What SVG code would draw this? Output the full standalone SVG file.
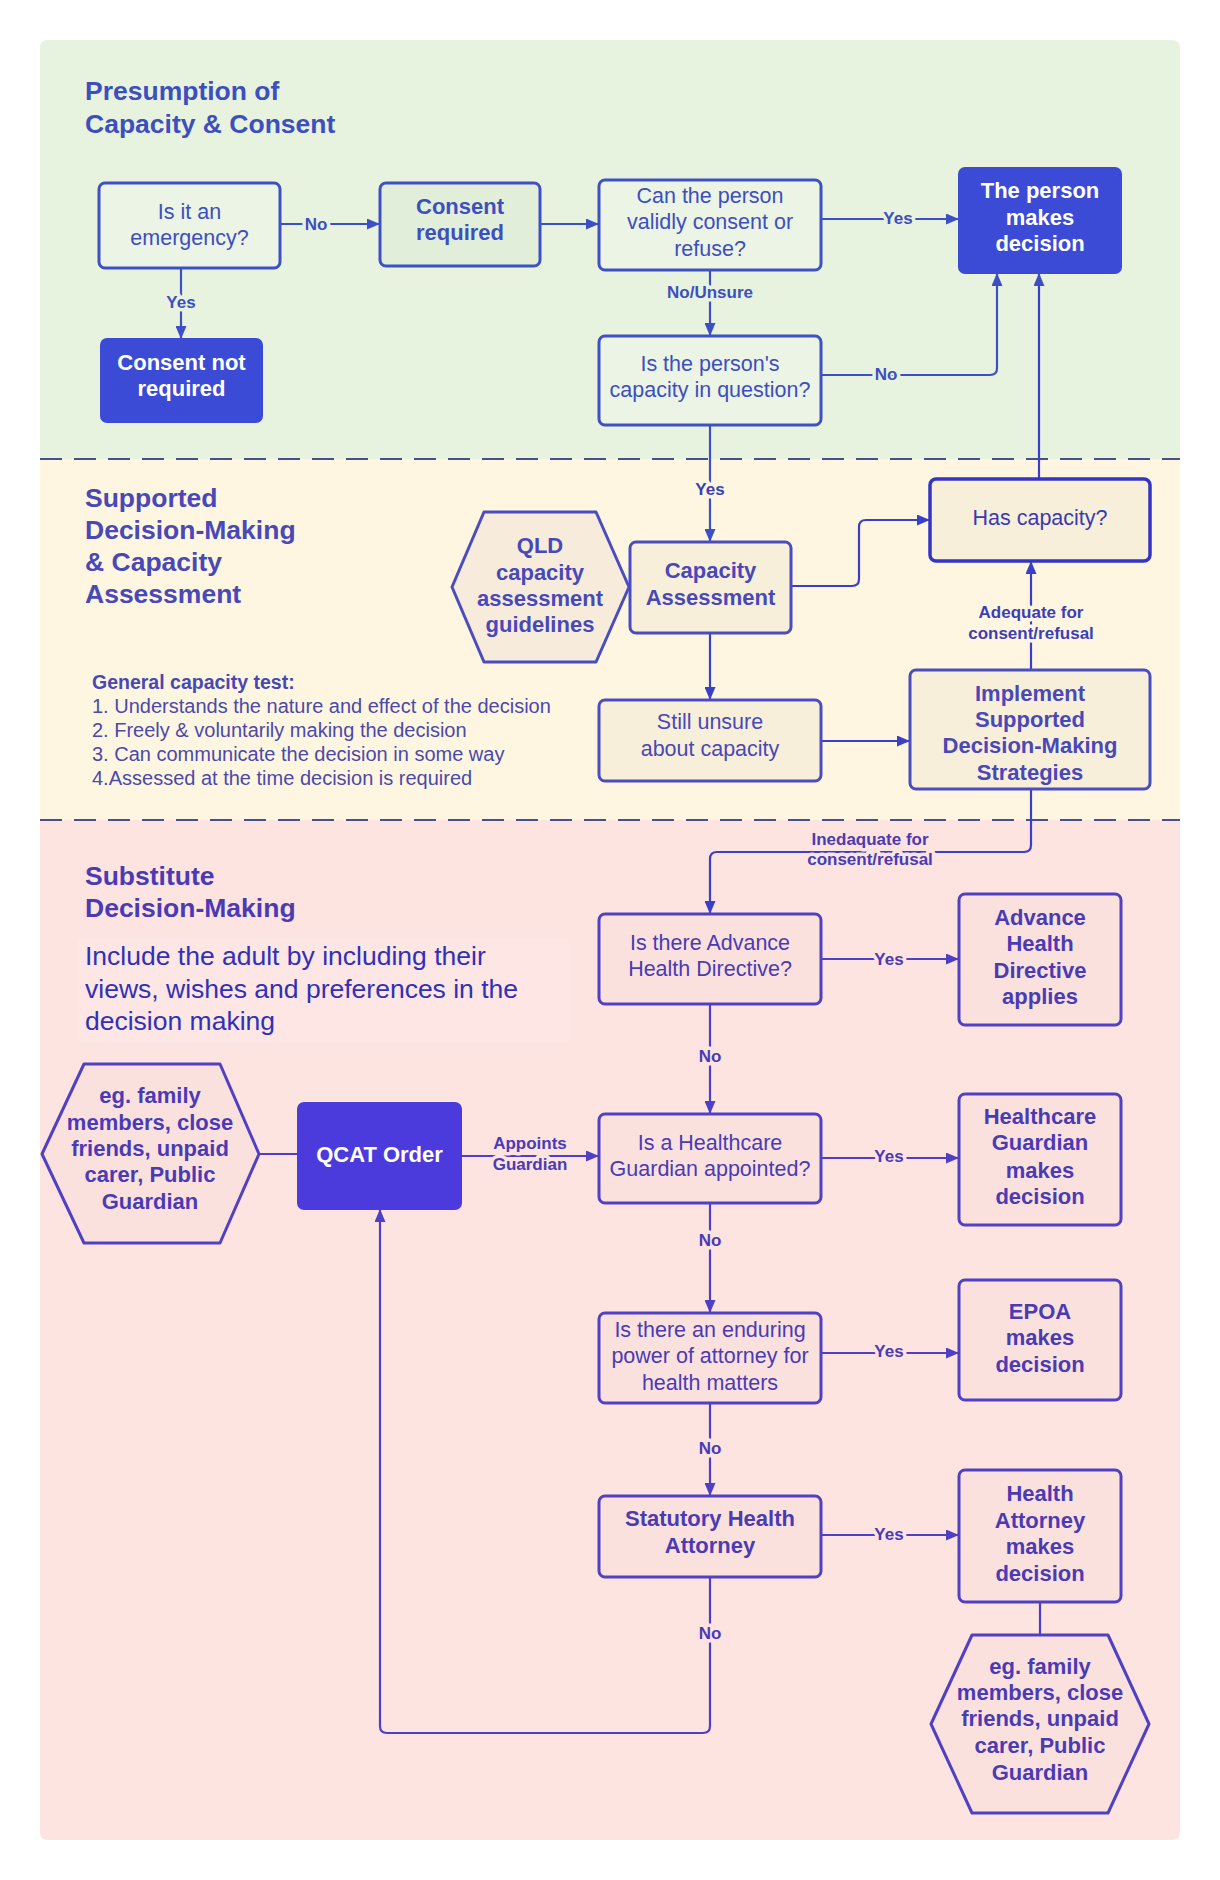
<svg xmlns="http://www.w3.org/2000/svg" width="1220" height="1880" viewBox="0 0 1220 1880">
<defs>
<style>
text{font-family:"Liberation Sans",Arial,sans-serif}
.title{font-size:26.5px;font-weight:bold}
.tg{fill:#3d4fbf}.ty{fill:#4848b8}.tp{fill:#4a3bb5}
.n{font-size:21.5px;text-anchor:middle}
.b{font-size:22px;font-weight:bold;text-anchor:middle}
.w{fill:#ffffff}
.lbl{font-size:17px;font-weight:bold;text-anchor:middle;paint-order:stroke;stroke-width:7px;stroke-linejoin:round}
.lg{fill:#3d4fbf;stroke:#e8f3df}.ly{fill:#3a3fb8;stroke:#fef6e0}.lp{fill:#4a3bb5;stroke:#fde4e1}
.bg{fill:#ebf4e5;stroke:#3e50c4;stroke-width:3}
.by{fill:#f8efdb;stroke:#4a4dbf;stroke-width:3}
.bp{fill:#fbe1de;stroke:#5040c4;stroke-width:3}
.cg{fill:none;stroke:#3d4fc6;stroke-width:2.2}
.cy{fill:none;stroke:#3a3fc8;stroke-width:2.2}
.cp{fill:none;stroke:#4e3ec8;stroke-width:2.2}
.dash{stroke:#46508f;stroke-width:2;stroke-dasharray:22 12}
.test{font-size:20px;fill:#4a4aaa}
.note{font-size:26.5px;fill:#3030b8}
</style>
<marker id="ag" markerUnits="userSpaceOnUse" markerWidth="13" markerHeight="11" refX="13" refY="5.5" orient="auto"><path d="M0,0 L13,5.5 L0,11 Z" fill="#3d4fc6"/></marker>
<marker id="ay" markerUnits="userSpaceOnUse" markerWidth="13" markerHeight="11" refX="13" refY="5.5" orient="auto"><path d="M0,0 L13,5.5 L0,11 Z" fill="#3a3fc8"/></marker>
<marker id="ap" markerUnits="userSpaceOnUse" markerWidth="13" markerHeight="11" refX="13" refY="5.5" orient="auto"><path d="M0,0 L13,5.5 L0,11 Z" fill="#4e3ec8"/></marker>
</defs>
<rect width="1220" height="1880" fill="#ffffff"/>
<g id="panels">
<path d="M48,40 H1172 Q1180,40 1180,48 V459 H40 V48 Q40,40 48,40 Z" fill="#e8f3df"/>
<rect x="40" y="459" width="1140" height="361" fill="#fef6e0"/>
<path d="M40,820 H1180 V1832 Q1180,1840 1172,1840 H48 Q40,1840 40,1832 Z" fill="#fde4e1"/>
<line class="dash" x1="40" y1="459" x2="1180" y2="459"/>
<line class="dash" x1="40" y1="820" x2="1180" y2="820"/>
<text class="title tg" x="85" y="100">Presumption of</text>
<text class="title tg" x="85" y="133">Capacity &amp; Consent</text>
<text class="title ty" x="85" y="507">Supported</text>
<text class="title ty" x="85" y="539">Decision-Making</text>
<text class="title ty" x="85" y="571">&amp; Capacity</text>
<text class="title ty" x="85" y="603">Assessment</text>
<text class="title tp" x="85" y="885">Substitute</text>
<text class="title tp" x="85" y="917">Decision-Making</text>
</g>
<g id="capacity-test">
<text x="92" y="689" font-size="19.5px" font-weight="bold" fill="#4848b5">General capacity test:</text>
<text class="test" x="92" y="713">1. Understands the nature and effect of the decision</text>
<text class="test" x="92" y="737">2. Freely &amp; voluntarily making the decision</text>
<text class="test" x="92" y="761">3. Can communicate the decision  in some way</text>
<text class="test" x="92" y="785">4.Assessed at the time decision is required</text>
</g>
<g id="include-note">
<rect x="78" y="938" width="491" height="105" rx="4" fill="#fde6e3"/>
<text class="note" x="85" y="965">Include the adult by including their</text>
<text class="note" x="85" y="998">views, wishes and preferences in the</text>
<text class="note" x="85" y="1030">decision making</text>
</g>
<g id="connectors">
<line class="cg" x1="280" y1="224" x2="380" y2="224" marker-end="url(#ag)"/>
<line class="cg" x1="540" y1="224" x2="599" y2="224" marker-end="url(#ag)"/>
<line class="cg" x1="181" y1="268" x2="181" y2="339" marker-end="url(#ag)"/>
<line class="cg" x1="821" y1="219" x2="959" y2="219" marker-end="url(#ag)"/>
<line class="cg" x1="710" y1="270" x2="710" y2="336" marker-end="url(#ag)"/>
<path class="cg" d="M821,375 H990 Q997,375 997,368 V273" marker-end="url(#ag)"/>
<line class="cg" x1="710" y1="425" x2="710" y2="542" marker-end="url(#ag)"/>
<line class="cy" x1="1039" y1="479" x2="1039" y2="273" marker-end="url(#ag)"/>
<path class="cy" d="M791,586 H852 Q859,586 859,579 V527 Q859,520 866,520 H930" marker-end="url(#ay)"/>
<line class="cy" x1="710" y1="633" x2="710" y2="700" marker-end="url(#ay)"/>
<line class="cy" x1="821" y1="741" x2="910" y2="741" marker-end="url(#ay)"/>
<line class="cy" x1="1031" y1="670" x2="1031" y2="561" marker-end="url(#ay)"/>
<path class="cy" d="M1031,789 V845 Q1031,852 1024,852 H717 Q710,852 710,859 V914" marker-end="url(#ay)"/>
<line class="cp" x1="259" y1="1154" x2="298" y2="1154"/>
<line class="cp" x1="461" y1="1156" x2="599" y2="1156" marker-end="url(#ap)"/>
<line class="cp" x1="821" y1="959" x2="959" y2="959" marker-end="url(#ap)"/>
<line class="cp" x1="710" y1="1004" x2="710" y2="1114" marker-end="url(#ap)"/>
<line class="cp" x1="821" y1="1158" x2="959" y2="1158" marker-end="url(#ap)"/>
<line class="cp" x1="710" y1="1203" x2="710" y2="1313" marker-end="url(#ap)"/>
<line class="cp" x1="821" y1="1353" x2="959" y2="1353" marker-end="url(#ap)"/>
<line class="cp" x1="710" y1="1403" x2="710" y2="1496" marker-end="url(#ap)"/>
<line class="cp" x1="821" y1="1535" x2="959" y2="1535" marker-end="url(#ap)"/>
<line class="cp" x1="1040" y1="1602" x2="1040" y2="1635"/>
<path class="cp" d="M710,1577 V1726 Q710,1733 703,1733 H387 Q380,1733 380,1726 V1209" marker-end="url(#ap)"/>
<text class="lbl lg" x="316" y="230">No</text>
<text class="lbl lg" x="181" y="308">Yes</text>
<text class="lbl lg" x="898" y="224">Yes</text>
<text class="lbl lg" x="710" y="298">No/Unsure</text>
<text class="lbl lg" x="886" y="380">No</text>
<text class="lbl ly" x="710" y="495">Yes</text>
<text class="lbl ly" x="1031" y="618">Adequate for</text>
<text class="lbl ly" x="1031" y="639">consent/refusal</text>
<text class="lbl lp" x="870" y="845">Inedaquate for</text>
<text class="lbl lp" x="870" y="865">consent/refusal</text>
<text class="lbl lp" x="530" y="1149">Appoints</text>
<text class="lbl lp" x="530" y="1170">Guardian</text>
<text class="lbl lp" x="889" y="965">Yes</text>
<text class="lbl lp" x="710" y="1062">No</text>
<text class="lbl lp" x="889" y="1162">Yes</text>
<text class="lbl lp" x="710" y="1246">No</text>
<text class="lbl lp" x="889" y="1357">Yes</text>
<text class="lbl lp" x="710" y="1454">No</text>
<text class="lbl lp" x="889" y="1540">Yes</text>
<text class="lbl lp" x="710" y="1639">No</text>
</g>
<g id="emergency">
<rect class="bg" x="99" y="183" width="181" height="85" rx="6"/>
<text class="n tg" x="189.5" y="218.5">Is it an</text>
<text class="n tg" x="189.5" y="244.5">emergency?</text>
</g>
<g id="consent-required">
<rect class="bg" x="380" y="183" width="160" height="83" rx="6" style="fill:#e1efda"/>
<text class="b tg" x="460" y="214">Consent</text>
<text class="b tg" x="460" y="240">required</text>
</g>
<g id="validly-consent">
<rect class="bg" x="599" y="180" width="222" height="90" rx="6"/>
<text class="n tg" x="710" y="203">Can the person</text>
<text class="n tg" x="710" y="229">validly consent or</text>
<text class="n tg" x="710" y="256">refuse?</text>
</g>
<g id="person-decides">
<rect x="959" y="168" width="162" height="105" rx="6" fill="#3b4bd6" stroke="#3b4bd6" stroke-width="2"/>
<text class="b w" x="1040" y="198">The person</text>
<text class="b w" x="1040" y="225">makes</text>
<text class="b w" x="1040" y="251">decision</text>
</g>
<g id="consent-not-required">
<rect x="101" y="339" width="161" height="83" rx="6" fill="#3b4bd6" stroke="#3b4bd6" stroke-width="2"/>
<text class="b w" x="181.5" y="370">Consent not</text>
<text class="b w" x="181.5" y="396">required</text>
</g>
<g id="capacity-question">
<rect class="bg" x="599" y="336" width="222" height="89" rx="6"/>
<text class="n tg" x="710" y="371">Is the person's</text>
<text class="n tg" x="710" y="397">capacity in question?</text>
</g>
<g id="qld-guidelines">
<path d="M452,587 L484,512 H596 L629,587 L596,662 H484 Z" fill="#f7ecdc" stroke="#4a4dbf" stroke-width="3" stroke-linejoin="round"/>
<text class="b ty" x="540" y="553">QLD</text>
<text class="b ty" x="540" y="580">capacity</text>
<text class="b ty" x="540" y="606">assessment</text>
<text class="b ty" x="540" y="632">guidelines</text>
</g>
<g id="capacity-assessment">
<rect class="by" x="630" y="542" width="161" height="91" rx="6"/>
<text class="b ty" x="710.5" y="578">Capacity</text>
<text class="b ty" x="710.5" y="605">Assessment</text>
</g>
<g id="has-capacity">
<rect x="930" y="479" width="220" height="82" rx="6" fill="#f8efdb" stroke="#3535c5" stroke-width="3.5"/>
<text class="n" x="1040" y="524.5" fill="#3a3ab0">Has capacity?</text>
</g>
<g id="implement-sdm">
<rect class="by" x="910" y="670" width="240" height="119" rx="6"/>
<text class="b ty" x="1030" y="701">Implement</text>
<text class="b ty" x="1030" y="727">Supported</text>
<text class="b ty" x="1030" y="753">Decision-Making</text>
<text class="b ty" x="1030" y="780">Strategies</text>
</g>
<g id="still-unsure">
<rect class="by" x="599" y="700" width="222" height="81" rx="6"/>
<text class="n ty" x="710" y="728.5">Still unsure</text>
<text class="n ty" x="710" y="755.5">about capacity</text>
</g>
<g id="family-left">
<path d="M42,1154 L84,1064 H220 L259,1154 L220,1243 H84 Z" fill="#fbe1de" stroke="#5040c4" stroke-width="3" stroke-linejoin="round"/>
<text class="b tp" x="150" y="1103">eg. family</text>
<text class="b tp" x="150" y="1130">members, close</text>
<text class="b tp" x="150" y="1156">friends, unpaid</text>
<text class="b tp" x="150" y="1182">carer, Public</text>
<text class="b tp" x="150" y="1209">Guardian</text>
</g>
<g id="qcat-order">
<rect x="298" y="1103" width="163" height="106" rx="6" fill="#4b3bdc" stroke="#4b3bdc" stroke-width="2"/>
<text class="b w" x="379.5" y="1162">QCAT Order</text>
</g>
<g id="ahd-question">
<rect class="bp" x="599" y="914" width="222" height="90" rx="6"/>
<text class="n tp" x="710" y="949.5">Is there Advance</text>
<text class="n tp" x="710" y="975.5">Health Directive?</text>
</g>
<g id="ahd-applies">
<rect class="bp" x="959" y="894" width="162" height="131" rx="6"/>
<text class="b tp" x="1040" y="925">Advance</text>
<text class="b tp" x="1040" y="951">Health</text>
<text class="b tp" x="1040" y="978">Directive</text>
<text class="b tp" x="1040" y="1004">applies</text>
</g>
<g id="guardian-question">
<rect class="bp" x="599" y="1114" width="222" height="89" rx="6"/>
<text class="n tp" x="710" y="1149.5">Is a Healthcare</text>
<text class="n tp" x="710" y="1175.5">Guardian appointed?</text>
</g>
<g id="guardian-decides">
<rect class="bp" x="959" y="1094" width="162" height="131" rx="6"/>
<text class="b tp" x="1040" y="1124">Healthcare</text>
<text class="b tp" x="1040" y="1150">Guardian</text>
<text class="b tp" x="1040" y="1178">makes</text>
<text class="b tp" x="1040" y="1204">decision</text>
</g>
<g id="epoa-question">
<rect class="bp" x="599" y="1313" width="222" height="90" rx="6"/>
<text class="n tp" x="710" y="1336.5">Is there an enduring</text>
<text class="n tp" x="710" y="1362.5">power of attorney for</text>
<text class="n tp" x="710" y="1389.5">health matters</text>
</g>
<g id="epoa-decides">
<rect class="bp" x="959" y="1280" width="162" height="120" rx="6"/>
<text class="b tp" x="1040" y="1319">EPOA</text>
<text class="b tp" x="1040" y="1345">makes</text>
<text class="b tp" x="1040" y="1372">decision</text>
</g>
<g id="statutory-attorney">
<rect class="bp" x="599" y="1496" width="222" height="81" rx="6"/>
<text class="b tp" x="710" y="1526">Statutory Health</text>
<text class="b tp" x="710" y="1553">Attorney</text>
</g>
<g id="attorney-decides">
<rect class="bp" x="959" y="1470" width="162" height="132" rx="6"/>
<text class="b tp" x="1040" y="1501">Health</text>
<text class="b tp" x="1040" y="1528">Attorney</text>
<text class="b tp" x="1040" y="1554">makes</text>
<text class="b tp" x="1040" y="1581">decision</text>
</g>
<g id="family-right">
<path d="M931,1724 L972,1635 H1108 L1149,1724 L1108,1813 H972 Z" fill="#fbe1de" stroke="#5040c4" stroke-width="3" stroke-linejoin="round"/>
<text class="b tp" x="1040" y="1674">eg. family</text>
<text class="b tp" x="1040" y="1700">members, close</text>
<text class="b tp" x="1040" y="1726">friends, unpaid</text>
<text class="b tp" x="1040" y="1753">carer, Public</text>
<text class="b tp" x="1040" y="1780">Guardian</text>
</g>
</svg>
